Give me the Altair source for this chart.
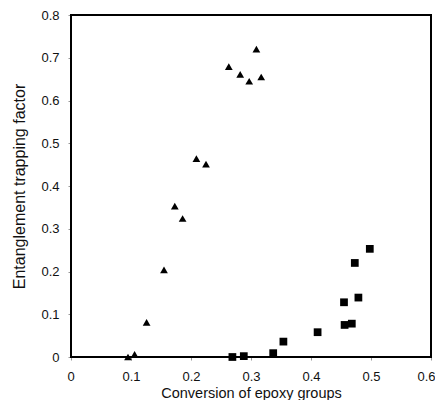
import altair as alt
import pandas as pd

tri_x = [0.095, 0.106, 0.126, 0.155, 0.173, 0.186, 0.209, 0.225, 0.263, 0.282, 0.297, 0.309, 0.317]
tri_y = [0.0, 0.006, 0.081, 0.204, 0.353, 0.324, 0.464, 0.451, 0.679, 0.661, 0.645, 0.720, 0.655]
sq_x = [0.269, 0.288, 0.337, 0.354, 0.411, 0.455, 0.456, 0.468, 0.473, 0.479, 0.498]
sq_y = [0.0, 0.002, 0.009, 0.036, 0.058, 0.128, 0.075, 0.078, 0.220, 0.139, 0.253]

df = pd.concat([
    pd.DataFrame({"x": tri_x, "y": tri_y, "s": "tri"}),
    pd.DataFrame({"x": sq_x, "y": sq_y, "s": "sq"}),
])

font = "Liberation Sans"
points = alt.Chart(df).mark_point(filled=True, color="black", opacity=1, size=60).encode(
    x=alt.X("x:Q", scale=alt.Scale(domain=[0, 0.6], nice=False),
            axis=alt.Axis(title="Conversion of epoxy groups", values=[0, 0.1, 0.2, 0.3, 0.4, 0.5, 0.6],
                          format=".1~f", grid=False, domain=False,
                          tickSize=3, tickColor="#999",
                          labelFont=font, labelFontSize=13, labelColor="#111", labelPadding=10,
                          labelFlush=True, labelFlushOffset=4, labelOverlap=False,
                          titleFont=font, titleFontSize=14.5, titleFontWeight="normal", titleColor="#111",
                          titleY=40, titleBaseline="alphabetic")),
    y=alt.Y("y:Q", scale=alt.Scale(domain=[0, 0.8], nice=False),
            axis=alt.Axis(title="Entanglement trapping factor", values=[0, 0.1, 0.2, 0.3, 0.4, 0.5, 0.6, 0.7, 0.8],
                          format=".1~f", grid=False, domain=False,
                          tickSize=3, tickColor="#999",
                          labelFont=font, labelFontSize=13, labelColor="#111", labelPadding=9,
                          labelFlush=False, labelOverlap=False,
                          titleFont=font, titleFontSize=16, titleFontWeight="normal", titleColor="#111",
                          titleX=-47, titleBaseline="alphabetic")),
    shape=alt.Shape("s:N", scale=alt.Scale(domain=["tri", "sq"], range=["triangle-up", "square"]), legend=None),
)

frame = alt.Chart(df).mark_rect(fill=None, stroke="black", strokeWidth=2).encode(
    x=alt.value(0), x2=alt.value(360), y=alt.value(0), y2=alt.value(342)
)

chart = alt.layer(frame, points).properties(
    width=360, height=342,
    autosize=alt.AutoSizeParams(type="none"),
    padding={"left": 63, "top": 7, "right": 4, "bottom": 43},
).configure_view(strokeWidth=0)

chart.save("out.html", embed_options={"renderer": "svg", "actions": False})
